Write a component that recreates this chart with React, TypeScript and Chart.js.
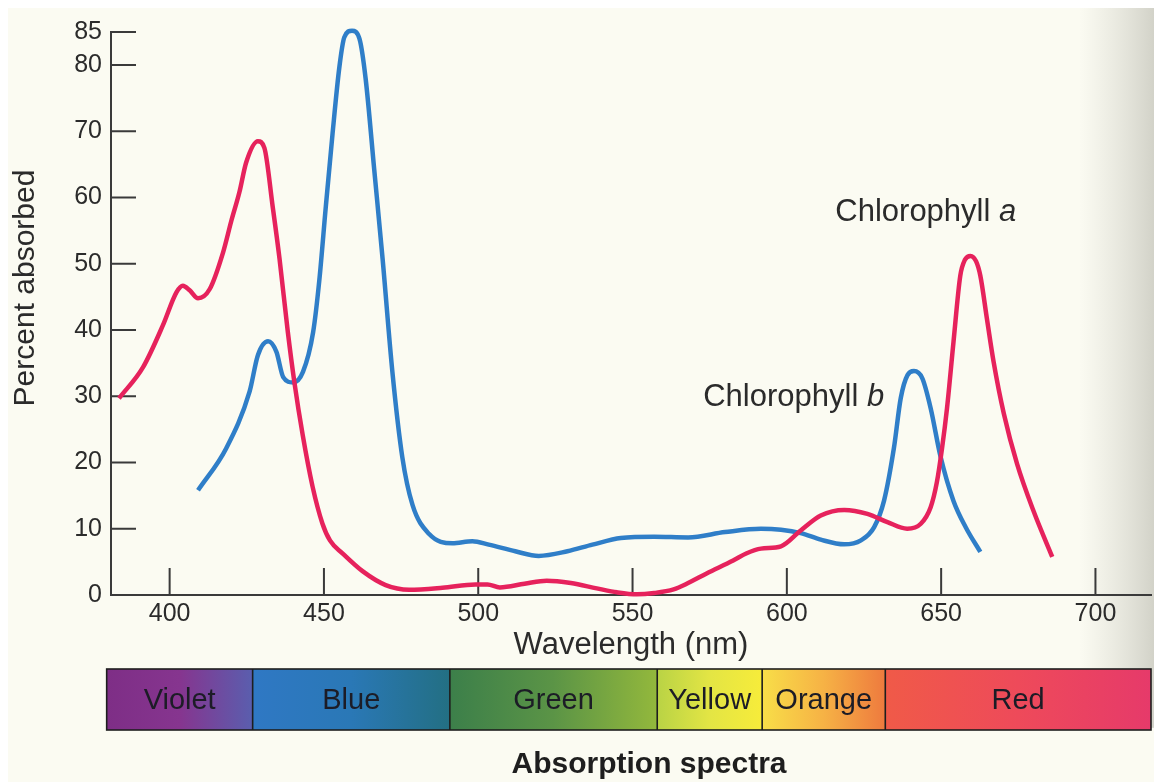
import React, { useEffect, useRef } from "react";
import { Chart, registerables } from "chart.js";

Chart.register(...registerables);

// ---- data ----
const X_TICKS = [400, 450, 500, 550, 600, 650, 700];
const Y_TICKS = [0, 10, 20, 30, 40, 50, 60, 70, 80, 85];

const CHL_A_WL = [383.6, 391.4, 397.8, 402.2, 404.3, 406.5, 409.2, 413.0, 417.3, 420.0, 422.6, 424.8, 428.6, 430.7, 433.4, 435.6, 438.3, 440.4, 443.1, 446.3, 449.5, 452, 456, 462.5, 470, 477.6, 488.4, 499.1, 503, 507, 515, 522.2, 530, 538.4, 545, 551.4, 557, 563.3, 568, 574, 582.6, 587, 591.6, 598.1, 604.5, 611, 618.6, 626.1, 632.6, 639, 643.4, 646.6, 648.6, 650.3, 651.9, 654.0, 656.2, 657.7, 659.5, 661.3, 662.7, 664.9, 667.0, 670.3, 674.6, 680.0, 686.0];
const CHL_A_PCT = [29.7, 34.4, 40.7, 45.7, 46.7, 46.0, 44.8, 46.2, 51.7, 56.5, 60.8, 65.3, 68.5, 67.5, 58.6, 50.8, 39.7, 32.2, 24.2, 16.4, 10.8, 8.2, 6.3, 3.6, 1.5, 0.8, 1.1, 1.6, 1.6, 1.15, 1.7, 2.15, 1.8, 1.0, 0.4, 0.1, 0.3, 0.85, 1.8, 3.25, 5.2, 6.3, 7.0, 7.35, 9.75, 12.0, 12.85, 12.25, 11.0, 10.0, 10.75, 13.25, 17.0, 22.2, 28.2, 38.2, 48.2, 50.6, 51.2, 50.4, 48.2, 41.5, 35.2, 27.4, 19.8, 12.6, 5.75];

const CHL_B_WL = [409.2, 418.4, 425.9, 428.6, 431.9, 434.6, 436.8, 440.0, 443.2, 446.5, 448.5, 450.6, 452.8, 455.0, 456.6, 459.1, 461.5, 463.5, 466.3, 469.0, 472.2, 475.4, 478.7, 484.1, 491.6, 498.1, 503.4, 512, 519.6, 528.9, 537, 546.2, 557, 568, 580, 591.6, 598.1, 604.5, 611, 618.6, 624, 628.3, 631.5, 634.7, 636.9, 639.1, 641.2, 643.9, 646.6, 649.8, 654.0, 658.0, 662.7];
const CHL_B_PCT = [15.8, 22.2, 30.7, 36.2, 38.3, 36.7, 32.9, 32.1, 33.7, 39.7, 47.5, 58.6, 69.7, 79.7, 84.2, 85.2, 84.0, 78.0, 64.2, 50.8, 33.6, 20.8, 13.6, 9.2, 7.8, 8.1, 7.6, 6.6, 5.9, 6.6, 7.6, 8.6, 8.8, 8.7, 9.5, 10.0, 9.85, 9.35, 8.35, 7.65, 8.25, 10.25, 14.25, 22.2, 29.7, 33.2, 33.8, 32.7, 28.2, 20.9, 14.2, 10.2, 6.5];

const BAND_NAMES = ["Violet", "Blue", "Green", "Yellow", "Orange", "Red"];
const BAND_EDGES = [379.6, 426.9, 490.8, 558.0, 592.0, 631.9, 718.0];

// ---- styles ----
const FONT = '"Liberation Sans", Arial, Helvetica, sans-serif';
const TEXT = "#2b2b2b";
const AXIS = "#3a3a3a";
const RED = "#e6225c";
const BLUE = "#2f7ec8";
const BAND_GRADIENTS = [
  ["#7e2e86", "#86358f", "#5a5eae"],
  ["#2f78c4", "#2a78b6", "#236f83"],
  ["#3c7f4a", "#5b9446", "#93b83c"],
  ["#b9d345", "#e3e544", "#f7ec3a"],
  ["#f8de48", "#f6b245", "#ee7a3e"],
  ["#f05a48", "#ee4a5a", "#e63a6a"],
];
const W = 1146;
const H = 774;

export default function App() {
  const ref = useRef<HTMLCanvasElement | null>(null);

  useEffect(() => {
    const canvas = ref.current;
    if (!canvas) return;

    const background = {
      id: "paper",
      beforeDraw(chart: any) {
        const { ctx } = chart;
        ctx.save();
        ctx.fillStyle = "#fbfbf2";
        ctx.fillRect(0, 0, chart.width, chart.height);
        const g = ctx.createLinearGradient(chart.width - 75, 0, chart.width, 0);
        g.addColorStop(0, "rgba(214,214,204,0)");
        g.addColorStop(1, "rgba(200,200,190,0.8)");
        ctx.fillStyle = g;
        ctx.fillRect(chart.width - 75, 0, 75, chart.height * 0.93);
        ctx.restore();
      },
    };

    const innerTicks = {
      id: "innerTicks",
      beforeDatasetsDraw(chart: any) {
        const { ctx, chartArea } = chart;
        const xs = chart.scales.x;
        const ys = chart.scales.y;
        ctx.save();
        ctx.strokeStyle = AXIS;
        ctx.lineWidth = 2;
        ctx.beginPath();
        xs.ticks.forEach((t: any) => {
          const px = xs.getPixelForValue(t.value);
          ctx.moveTo(px, chartArea.bottom);
          ctx.lineTo(px, chartArea.bottom - 27);
        });
        ys.ticks.forEach((t: any) => {
          if (t.value === 0) return;
          const py = ys.getPixelForValue(t.value);
          ctx.moveTo(chartArea.left, py);
          ctx.lineTo(chartArea.left + 25, py);
        });
        ctx.stroke();
        ctx.restore();
      },
    };

    const annotations = {
      id: "annotations",
      afterDraw(chart: any) {
        const { ctx } = chart;
        const xs = chart.scales.x;
        const ys = chart.scales.y;
        ctx.save();

        // curve labels
        const label = (main: string, it: string, wl: number, pct: number) => {
          const x = xs.getPixelForValue(wl);
          const y = ys.getPixelForValue(pct);
          ctx.fillStyle = TEXT;
          ctx.textBaseline = "alphabetic";
          ctx.textAlign = "left";
          ctx.font = `31px ${FONT}`;
          ctx.fillText(main, x, y);
          const w = ctx.measureText(main).width;
          ctx.font = `italic 31px ${FONT}`;
          ctx.fillText(it, x + w, y);
        };
        label("Chlorophyll ", "a", 615.7, 56.5);
        label("Chlorophyll ", "b", 572.9, 28.5);

        // y axis title
        ctx.save();
        ctx.translate(18, 280);
        ctx.rotate(-Math.PI / 2);
        ctx.fillStyle = TEXT;
        ctx.font = `30px ${FONT}`;
        ctx.textAlign = "center";
        ctx.textBaseline = "middle";
        ctx.fillText("Percent absorbed", 0, 0);
        ctx.restore();

        // spectrum bar
        const top = 661;
        const bottom = 722;
        for (let i = 0; i < BAND_NAMES.length; i++) {
          const x0 = xs.getPixelForValue(BAND_EDGES[i]);
          const x1 = xs.getPixelForValue(BAND_EDGES[i + 1]);
          const g = ctx.createLinearGradient(x0, 0, x1, 0);
          const stops = BAND_GRADIENTS[i];
          stops.forEach((c, k) => g.addColorStop(k / (stops.length - 1), c));
          ctx.fillStyle = g;
          ctx.fillRect(x0, top, x1 - x0, bottom - top);
        }
        ctx.strokeStyle = "#1e1e1e";
        ctx.lineWidth = 1.6;
        const bx0 = xs.getPixelForValue(BAND_EDGES[0]);
        const bx1 = xs.getPixelForValue(BAND_EDGES[BAND_EDGES.length - 1]);
        ctx.strokeRect(bx0, top, bx1 - bx0, bottom - top);
        ctx.beginPath();
        for (let i = 1; i < BAND_EDGES.length - 1; i++) {
          const px = xs.getPixelForValue(BAND_EDGES[i]);
          ctx.moveTo(px, top);
          ctx.lineTo(px, bottom);
        }
        ctx.stroke();
        ctx.fillStyle = "#1c1c26";
        ctx.font = `29px ${FONT}`;
        ctx.textAlign = "center";
        ctx.textBaseline = "middle";
        for (let i = 0; i < BAND_NAMES.length; i++) {
          const x0 = xs.getPixelForValue(BAND_EDGES[i]);
          const x1 = xs.getPixelForValue(BAND_EDGES[i + 1]);
          ctx.fillText(BAND_NAMES[i], (x0 + x1) / 2, (top + bottom) / 2 + 1);
        }

        // bottom caption
        ctx.fillStyle = "#1e1e1e";
        ctx.font = `bold 30px ${FONT}`;
        ctx.fillText("Absorption spectra", 641, 757);
        ctx.restore();
      },
    };

    const chart = new Chart(canvas, {
      type: "line",
      data: {
        datasets: [
          {
            label: "Chlorophyll a",
            data: CHL_A_WL.map((x, i) => ({ x, y: CHL_A_PCT[i] })),
            borderColor: RED,
            borderWidth: 4.5,
            pointRadius: 0,
            cubicInterpolationMode: "monotone",
            fill: false,
            clip: false,
          },
          {
            label: "Chlorophyll b",
            data: CHL_B_WL.map((x, i) => ({ x, y: CHL_B_PCT[i] })),
            borderColor: BLUE,
            borderWidth: 4.5,
            pointRadius: 0,
            cubicInterpolationMode: "monotone",
            fill: false,
            clip: false,
          },
        ],
      },
      options: {
        responsive: false,
        animation: false,
        devicePixelRatio: 1,
        layout: { padding: { top: 20, right: 3, left: 0, bottom: 0 } },
        plugins: {
          legend: { display: false },
          tooltip: { enabled: false },
          title: { display: false },
        },
        elements: { line: { capStyle: "round", joinStyle: "round" } },
        scales: {
          x: {
            type: "linear",
            min: 381,
            max: 718,
            afterBuildTicks: (s: any) => {
              s.ticks = X_TICKS.map((v) => ({ value: v }));
            },
            afterFit: (s: any) => {
              s.height = 187;
            },
            grid: { display: true, drawOnChartArea: false, drawTicks: false },
            border: { display: true, color: AXIS, width: 2 },
            ticks: {
              font: { family: FONT, size: 25 },
              color: TEXT,
              padding: 4,
              maxRotation: 0,
              autoSkip: false,
            },
            title: {
              display: true,
              text: "Wavelength (nm)",
              font: { family: FONT, size: 31 },
              color: TEXT,
              padding: { top: 0, bottom: 118 },
            },
          },
          y: {
            type: "linear",
            min: 0,
            max: 85,
            afterBuildTicks: (s: any) => {
              s.ticks = Y_TICKS.map((v) => ({ value: v }));
            },
            afterFit: (s: any) => {
              s.width = 103;
            },
            grid: { display: true, drawOnChartArea: false, drawTicks: false },
            border: { display: true, color: AXIS, width: 2 },
            ticks: {
              font: { family: FONT, size: 25 },
              color: TEXT,
              padding: 9,
              autoSkip: false,
            },
          },
        },
      },
      plugins: [background, innerTicks, annotations],
    } as any);

    return () => chart.destroy();
  }, []);

  return (
    <div style={{ position: "fixed", left: 8, top: 8, width: W, height: H }}>
      <canvas ref={ref} width={W} height={H} style={{ display: "block", width: W, height: H }} />
    </div>
  );
}
